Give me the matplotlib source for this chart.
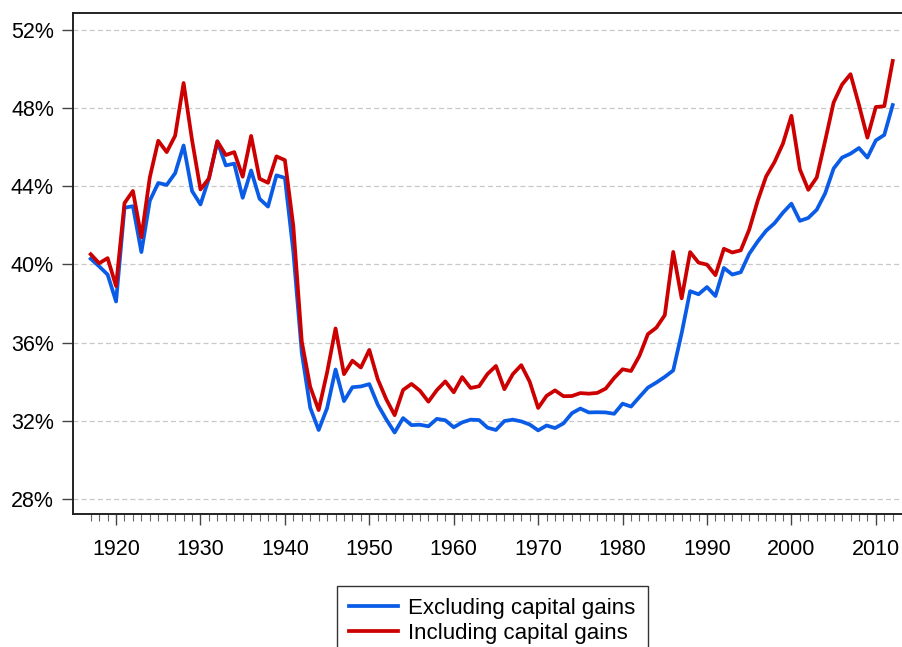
import numpy as np
import matplotlib.pyplot as plt
from matplotlib.ticker import MultipleLocator, FixedLocator

plt.rcParams['font.family'] = ['Liberation Sans', 'DejaVu Sans']

years = list(range(1917, 2013))

# top decile income share (%), excluding capital gains
excl_kg = [40.29, 39.90, 39.48, 38.10, 42.90, 42.98, 40.63, 43.26, 44.17, 44.07,
           44.67, 46.09, 43.76, 43.07, 44.40, 46.30, 45.07, 45.16, 43.41, 44.81,
           43.36, 42.96, 44.56, 44.43, 40.65, 35.48, 32.66, 31.52, 32.64, 34.62,
           33.00, 33.71, 33.75, 33.87, 32.82, 32.07, 31.39, 32.13, 31.77, 31.79,
           31.71, 32.09, 32.02, 31.66, 31.91, 32.05, 32.03, 31.64, 31.52, 31.98,
           32.05, 31.96, 31.80, 31.50, 31.75, 31.62, 31.86, 32.38, 32.62, 32.42,
           32.43, 32.42, 32.35, 32.87, 32.72, 33.21, 33.69, 33.95, 34.24, 34.57,
           36.48, 38.63, 38.47, 38.84, 38.38, 39.82, 39.48, 39.60, 40.54, 41.17,
           41.72, 42.11, 42.65, 43.11, 42.23, 42.38, 42.80, 43.64, 44.91, 45.47,
           45.67, 45.96, 45.47, 46.35, 46.63, 48.16]

# top decile income share (%), including capital gains
incl_kg = [40.52, 40.06, 40.32, 38.89, 43.14, 43.76, 41.39, 44.46, 46.33, 45.75,
           46.59, 49.29, 46.37, 43.84, 44.40, 46.30, 45.60, 45.75, 44.49, 46.58,
           44.39, 44.18, 45.53, 45.34, 41.96, 36.05, 33.73, 32.54, 34.47, 36.72,
           34.38, 35.07, 34.72, 35.62, 34.12, 33.10, 32.28, 33.57, 33.88, 33.53,
           32.97, 33.56, 34.01, 33.45, 34.23, 33.67, 33.76, 34.39, 34.80, 33.61,
           34.38, 34.84, 33.99, 32.65, 33.27, 33.55, 33.25, 33.26, 33.41, 33.38,
           33.42, 33.64, 34.18, 34.63, 34.54, 35.32, 36.43, 36.76, 37.40, 40.64,
           38.26, 40.63, 40.09, 39.99, 39.45, 40.80, 40.61, 40.72, 41.78, 43.25,
           44.50, 45.24, 46.19, 47.61, 44.87, 43.82, 44.45, 46.34, 48.29, 49.21,
           49.74, 48.17, 46.49, 48.06, 48.10, 50.42]

y_ticks = [28, 32, 36, 40, 44, 48, 52]

fig = plt.figure(figsize=(9.02, 6.47), dpi=100)
ax = fig.add_axes([0.0813, 0.205, 0.9187, 0.7742])

ax.plot(years, excl_kg, color='#0a5ce6', lw=2.7, label='Excluding capital gains')
ax.plot(years, incl_kg, color='#cc0000', lw=2.7, label='Including capital gains')

ax.set_xlim(1914.94, 2013.1)
ax.set_ylim(27.2, 52.85)

ax.set_yticks(y_ticks)
ax.set_yticklabels([f'{v}%' for v in y_ticks])
ax.set_xticks(range(1920, 2011, 10))
ax.xaxis.set_minor_locator(FixedLocator(years))

ax.grid(axis='y', color='#c8c8c8', lw=0.9, dashes=(4, 2.5))
ax.set_axisbelow(True)

ax.tick_params(axis='both', which='major', labelsize=15.5, length=8,
               width=1.0, color='#444444', pad=10)
ax.tick_params(axis='x', which='minor', length=5, width=0.8, color='#666666')
ax.tick_params(axis='y', pad=6)

for side in ['left', 'bottom', 'top']:
    ax.spines[side].set_linewidth(1.4)
    ax.spines[side].set_color('#222222')
ax.spines['right'].set_visible(False)

leg = fig.legend(loc='upper left', bbox_to_anchor=(337 / 902, 1 - 586 / 647),
                 fontsize=16, frameon=True, fancybox=False, edgecolor='black',
                 handlelength=2.2, handletextpad=0.45, labelspacing=0.15,
                 borderpad=0.55, borderaxespad=0)
leg.get_frame().set_linewidth(1.0)

fig.savefig('out.png', dpi=100)
